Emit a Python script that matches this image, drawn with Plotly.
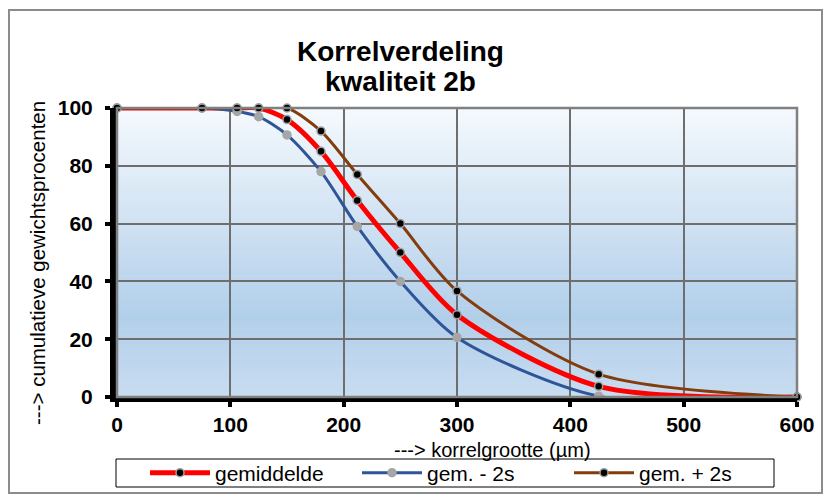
import plotly.graph_objects as go

# --- data ---
korrel = [0, 75, 106, 125, 150, 180, 212, 250, 300, 425, 600]
gemiddelde = [100, 100, 100, 100, 96, 85, 68, 50, 28.5, 3.7, 0]
gem_min_2s = [100, 100, 98.8, 97, 90.7, 78, 59, 40, 20.6, 0.3, 0]
gem_plus_2s = [100, 100, 100, 100, 100, 92, 77, 60, 36.7, 7.9, 0]
x_ticks = [0, 100, 200, 300, 400, 500, 600]
y_ticks = [0, 20, 40, 60, 80, 100]

FONT = "Liberation Sans, Arial, sans-serif"
L, R, T, B = 117, 797, 108, 397
PW, PH = R - L, B - T

def px(xp):
    return (xp - L) / PW

def py(yp):
    return (B - yp) / PH

fig = go.Figure()

def add(name, y, color, lw, mcolor, mline):
    fig.add_trace(go.Scatter(
        x=korrel, y=y, name=name, mode="lines+markers",
        line=dict(color=color, width=lw, shape="spline", smoothing=0.8),
        marker=dict(size=8, color=mcolor, line=dict(color=mline, width=1.5)),
        cliponaxis=False,
    ))

add("gemiddelde", gemiddelde, "#ff0000", 5, "#000000", "#a0a0a0")
add("gem. - 2s", gem_min_2s, "#2e5597", 3, "#a6a6a6", "#a6a6a6")
add("gem. + 2s", gem_plus_2s, "#843c0c", 3, "#000000", "#a0a0a0")

# gradient background of plot area (strips)
def lerp(c1, c2, t):
    return tuple(int(round(a + (b - a) * t)) for a, b in zip(c1, c2))

stops = [(0.0, (245, 249, 253)), (0.72, (178, 207, 234)), (1.0, (200, 220, 240))]  # from top
N = 60
shapes = []
for i in range(N):
    t = (i + 0.5) / N
    for j in range(len(stops) - 1):
        if stops[j][0] <= t <= stops[j + 1][0]:
            tt = (t - stops[j][0]) / (stops[j + 1][0] - stops[j][0])
            c = lerp(stops[j][1], stops[j + 1][1], tt)
            break
    y1 = 1 - i / N
    y0 = 1 - (i + 1) / N
    shapes.append(dict(type="rect", xref="x domain", yref="y domain", x0=0, x1=1,
                       y0=y0 - 0.001, y1=y1 + 0.001, fillcolor="rgb(%d,%d,%d)" % c,
                       line=dict(width=0), layer="below"))
# gray plot border (top/right)
shapes.append(dict(type="rect", xref="x domain", yref="y domain", x0=0, x1=1, y0=0, y1=1,
                   line=dict(color="#808080", width=2.5), layer="above"))
# outer chart border
shapes.append(dict(type="rect", xref="paper", yref="paper",
                   x0=px(9), x1=px(822), y0=py(493), y1=py(10),
                   line=dict(color="#8c8c8c", width=2)))
# legend box
shapes.append(dict(type="rect", xref="paper", yref="paper",
                   x0=px(116), x1=px(774), y0=py(487), y1=py(459),
                   line=dict(color="black", width=1), fillcolor="white"))

fig.update_layout(
    width=830, height=495,
    margin=dict(l=L, r=830 - R, t=T, b=495 - B, autoexpand=False),
    paper_bgcolor="white", plot_bgcolor="rgba(0,0,0,0)",
    font=dict(family=FONT, color="black"),
    shapes=shapes,
    showlegend=True,
    legend=dict(orientation="h", x=px(145), y=py(473), xanchor="left", yanchor="middle",
                borderwidth=0, bgcolor="rgba(0,0,0,0)",
                font=dict(size=21, family=FONT), itemwidth=60,
                entrywidth=137, entrywidthmode="pixels",
                traceorder="normal"),
    annotations=[
        dict(text="<b>Korrelverdeling</b>", xref="paper", yref="paper",
             x=px(400), y=py(52), showarrow=False, font=dict(size=28, family=FONT),
             xanchor="center", yanchor="middle"),
        dict(text="<b>kwaliteit 2b</b>", xref="paper", yref="paper",
             x=px(400), y=py(82), showarrow=False, font=dict(size=28, family=FONT),
             xanchor="center", yanchor="middle"),
        dict(text="---> korrelgrootte (µm)", xref="paper", yref="paper",
             x=px(492), y=py(450), showarrow=False,
             font=dict(size=20, family=FONT), xanchor="center", yanchor="middle"),
        dict(text="---> cumulatieve gewichtsprocenten", xref="paper", yref="paper",
             x=px(37), y=py(263), showarrow=False, textangle=-90,
             font=dict(size=20.5, family=FONT), xanchor="center", yanchor="middle"),
    ],
)
fig.update_xaxes(range=[0, 600], tickvals=x_ticks, ticktext=[str(v) for v in x_ticks],
                 showgrid=True, gridcolor="#6e6e6e", gridwidth=1.5,
                 showline=True, linecolor="black", linewidth=5,
                 ticks="outside", ticklen=5, tickwidth=4, tickcolor="black",
                 ticklabelstandoff=0,
                 tickfont=dict(size=21, family=FONT, weight="bold"), zeroline=False)
fig.update_yaxes(range=[0, 100], tickvals=y_ticks, ticktext=[str(v) for v in y_ticks],
                 showgrid=True, gridcolor="#6e6e6e", gridwidth=1.5,
                 showline=True, linecolor="black", linewidth=7,
                 ticks="outside", ticklen=5, tickwidth=4, tickcolor="black",
                 ticklabelstandoff=8,
                 tickfont=dict(size=21, family=FONT, weight="bold"), zeroline=False)

fig.write_html("out.html", post_script="document.body.style.margin='0';",
               config={"displayModeBar": False})
